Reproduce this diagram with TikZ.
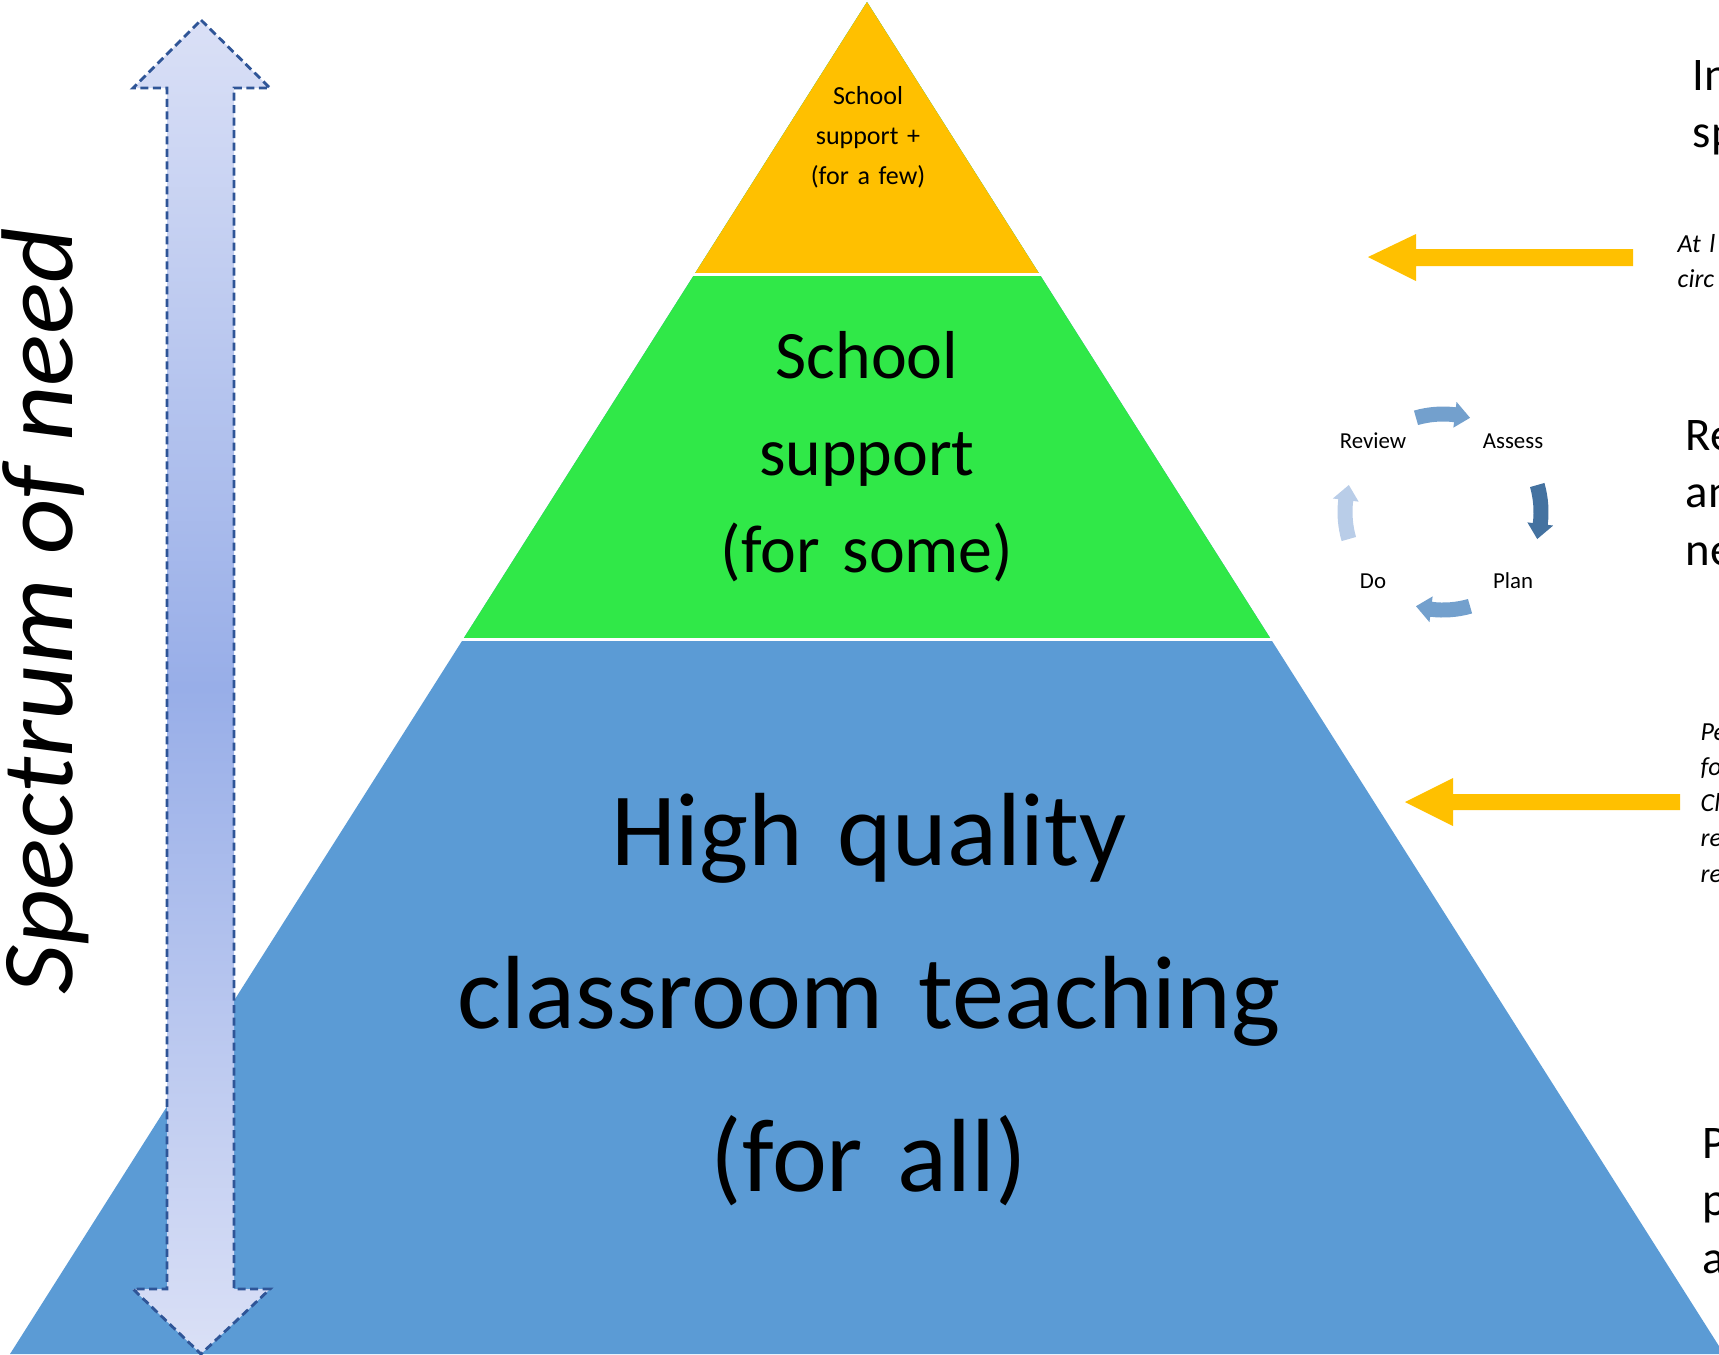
\documentclass[tikz,border=0pt]{standalone}
\usepackage{fontspec}
\setmainfont{Carlito}
\usetikzlibrary{calc}

\definecolor{fewcol}{RGB}{255,192,0}
\definecolor{somecol}{RGB}{48,232,72}
\definecolor{allcol}{RGB}{91,155,213}
\definecolor{needend}{RGB}{218,224,246}
\definecolor{needmid}{RGB}{152,174,232}
\definecolor{needline}{RGB}{47,85,151}
\definecolor{cycmid}{RGB}{115,160,205}
\definecolor{cycdark}{RGB}{68,114,160}
\definecolor{cyclight}{RGB}{185,205,232}

% curved arrow of the cycle, #1 = centre angle, #2 = colour
\newcommand{\cycarrow}[2]{%
  \fill[#2] (#1-16:105.5) arc[start angle=#1-16, end angle=#1+7, radius=105.5]
    -- (#1+7:111) -- (#1+16:98) -- (#1+7:85) -- (#1+7:90.5)
    arc[start angle=#1+7, end angle=#1-16, radius=90.5] -- cycle;}

\tikzset{
  lvltext/.style={align=center, anchor=base},
  sidetext/.style={align=left, anchor=base west, text width=3cm, inner sep=0pt,
    font=\fontsize{13.3}{16.4}\selectfont},
  sidenote/.style={align=left, anchor=base west, text width=3cm, inner sep=0pt,
    font=\fontsize{7.4}{10.1}\selectfont\itshape},
  cyclabel/.style={anchor=base, font=\fontsize{6.5}{8}\selectfont},
  yarrow/.style={fill=fewcol},
}

\begin{document}
\begin{tikzpicture}[x=0.1mm, y=-0.1mm]
\useasboundingbox (0,0) rectangle (1719,1354);
\clip (0,0) rectangle (1719,1354);

% pyramid
\coordinate (apex) at (867,2);
\coordinate (bl) at (10,1354);
\coordinate (br) at (1724,1354);
\fill[allcol] (apex) -- (br) -- (bl) -- cycle;
\fill[somecol] (apex) -- ($(apex)!0.4704!(br)$) -- ($(apex)!0.4704!(bl)$) -- cycle;
\fill[fewcol] (apex) -- ($(apex)!0.2004!(br)$) -- ($(apex)!0.2004!(bl)$) -- cycle;
\draw[white, line width=0.3mm] (680,274.5) -- (1060,274.5);
\draw[white, line width=0.3mm] (450,639.5) -- (1290,639.5);

\node[lvltext, text width=2cm, font=\fontsize{7.4}{11.5}\selectfont] (few) at (868,104)
  {School\\support +\\(for a few)};
\node[lvltext, text width=5cm, font=\fontsize{19.3}{27.6}\selectfont] (some) at (867,378)
  {School\\support\\(for some)};
\node[lvltext, text width=10cm, font=\fontsize{29.6}{46.4}\selectfont] (all) at (869,865)
  {High quality\\classroom teaching\\(for all)};

% spectrum arrow
\shade[top color=needend, bottom color=needend, middle color=needmid,
  draw=needline, line width=0.28mm, dash pattern=on 0.8mm off 0.45mm]
  (201,20) -- (270,88) -- (234,88) -- (234,1289) -- (270,1289) -- (201,1354)
  -- (133,1289) -- (167,1289) -- (167,88) -- (133,88) -- cycle;
\node[rotate=90, anchor=base, font=\fontsize{29}{34}\selectfont\itshape] (need)
  at (73,611) {\scalebox{1.06}[1]{Spectrum of need}};

% yellow arrows
\fill[yarrow] (1368,257) -- (1416,234) -- (1416,249) -- (1633,249) -- (1633,266)
  -- (1416,266) -- (1416,281) -- cycle;
\fill[yarrow] (1405,802) -- (1453,778) -- (1453,794) -- (1680,794) -- (1680,810)
  -- (1453,810) -- (1453,826) -- cycle;

% assess plan do review
\coordinate (cyc) at (1443,512);
\begin{scope}[shift={(cyc)}]
\cycarrow{270}{cycmid}
\cycarrow{0}{cycdark}
\cycarrow{90}{cycmid}
\cycarrow{180}{cyclight}
\end{scope}
\node[cyclabel] (review) at (1373,448) {Review};
\node[cyclabel] (assess) at (1513,448) {Assess};
\node[cyclabel] (plan) at (1513,588) {Plan};
\node[cyclabel] (do) at (1373,588) {Do};

% texts at the right edge
\node[sidetext] (t1) at (1692,90) {In\\sp};
\node[sidenote] (n1) at (1677,252) {At l\\circ};
\node[sidetext] (t2) at (1685,450) {Re\\an\\ne};
\node[sidenote] (n2) at (1700,740) {Pe\\fo\\Cl\\re\\re};
\node[sidetext] (t3) at (1702,1158) {P\\p\\a};

\end{tikzpicture}
\end{document}
